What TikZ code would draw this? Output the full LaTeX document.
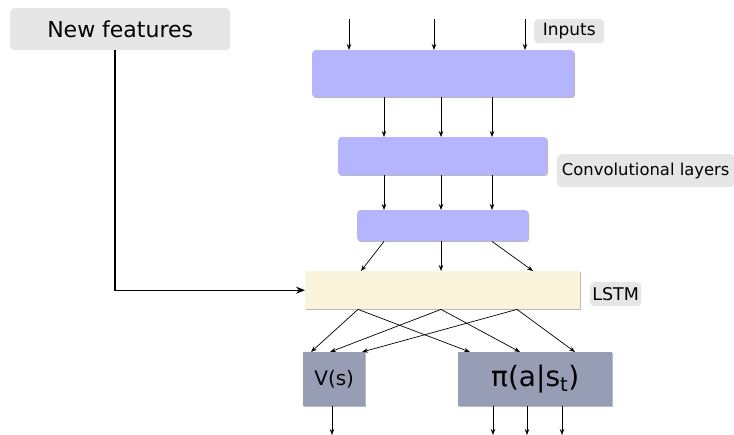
\documentclass[tikz,border=0pt]{standalone}
\usepackage{fontspec}
\setmainfont{DejaVu Sans}
\usetikzlibrary{arrows.meta,shadows}
\definecolor{boxblue}{RGB}{181,181,253}
\definecolor{lstmcol}{RGB}{251,244,221}
\definecolor{outcol}{RGB}{150,157,181}
\definecolor{labelgray}{RGB}{230,230,230}
\tikzset{
  layer/.style={anchor=north west, inner sep=0pt, rounded corners=3pt, fill=#1,
    drop shadow={shadow xshift=0.8pt, shadow yshift=-0.8pt, opacity=0.45, fill=black!60}},
  tag/.style={anchor=north west, inner sep=0pt, rounded corners=4pt, fill=labelgray},
  arr/.style={-{Stealth[length=6pt,width=4.5pt]}, line width=0.7pt},
  bigarr/.style={-{Stealth[length=9pt,width=7pt]}, line width=1.3pt},
  fs/.style={font=\fontsize{#1}{#1}\selectfont}
}
\begin{document}
\begin{tikzpicture}[x=1pt,y=-1pt]
\useasboundingbox (0,0) rectangle (734,435);
% labels
\node[tag, minimum width=220pt, minimum height=42pt, fs=22] (nf) at (10,8) {New features};
\node[tag, minimum width=70pt, minimum height=24pt, fs=17] (inl) at (534,19) {Inputs};
\node[tag, minimum width=177pt, minimum height=33pt, fs=16.4] (cll) at (557,154) {Convolutional layers};
\node[tag, minimum width=51pt, minimum height=24pt, fs=17.5] (lsl) at (590,282) {LSTM};
% layers
\node[layer=boxblue, minimum width=262pt, minimum height=47pt] (b1) at (312,50) {};
\node[layer=boxblue, minimum width=209pt, minimum height=38pt] (b2) at (338,137) {};
\node[layer=boxblue, minimum width=171pt, minimum height=31pt] (b3) at (357,210) {};
\node[layer=lstmcol, rounded corners=0pt, minimum width=275pt, minimum height=38pt] (lstm) at (305,271) {};
\node[layer=outcol, rounded corners=0pt, minimum width=62pt, minimum height=54pt, fs=20] (v) at (303,352) {V(s)};
\node[layer=outcol, rounded corners=0pt, minimum width=154pt, minimum height=54pt, fs=28] (pi) at (458,352) {π(a|s\textsubscript{t})};
% coordinates
\coordinate (i1) at (349,19);
\coordinate (i2) at (434,19);
\coordinate (i3) at (525,19);
\coordinate (c1) at (384,0);
\coordinate (c2) at (441,0);
\coordinate (c3) at (492,0);
\coordinate (nfx) at (115,0);
\coordinate (l1) at (361,0);
\coordinate (l3) at (533,0);
\coordinate (s1) at (358,0);
\coordinate (s2) at (441,0);
\coordinate (s3) at (517,0);
\coordinate (v1) at (311,0);
\coordinate (v2) at (330,0);
\coordinate (v3) at (362,0);
\coordinate (p1) at (470,0);
\coordinate (p2) at (520,0);
\coordinate (p3) at (575,0);
\coordinate (ov) at (332,435);
\coordinate (o1) at (493,435);
\coordinate (o2) at (527,435);
\coordinate (o3) at (562,435);
% input arrows
\draw[arr] (i1) -- (i1 |- b1.north);
\draw[arr] (i2) -- (i2 |- b1.north);
\draw[arr] (i3) -- (i3 |- b1.north);
% b1 -> b2 -> b3
\foreach \c in {c1,c2,c3}{
  \draw[arr] (b1.south -| \c) -- (b2.north -| \c);
  \draw[arr] (b2.south -| \c) -- (b3.north -| \c);
}
% b3 -> lstm
\draw[arr] (b3.south -| c1) -- (lstm.north -| l1);
\draw[arr] (b3.south -| c2) -- (lstm.north -| c2);
\draw[arr] (b3.south -| c3) -- (lstm.north -| l3);
% new features -> lstm
\draw[bigarr] (nf.south -| nfx) |- (lstm.west);
% lstm -> outputs
\draw[arr] (lstm.south -| s1) -- (v.north -| v1);
\draw[arr] (lstm.south -| s1) -- (pi.north -| p1);
\draw[arr] (lstm.south -| s2) -- (v.north -| v2);
\draw[arr] (lstm.south -| s2) -- (pi.north -| p2);
\draw[arr] (lstm.south -| s3) -- (v.north -| v3);
\draw[arr] (lstm.south -| s3) -- (pi.north -| p3);
% outputs
\draw[arr] (v.south -| ov) -- (ov);
\draw[arr] (pi.south -| o1) -- (o1);
\draw[arr] (pi.south -| o2) -- (o2);
\draw[arr] (pi.south -| o3) -- (o3);
\end{tikzpicture}
\end{document}
